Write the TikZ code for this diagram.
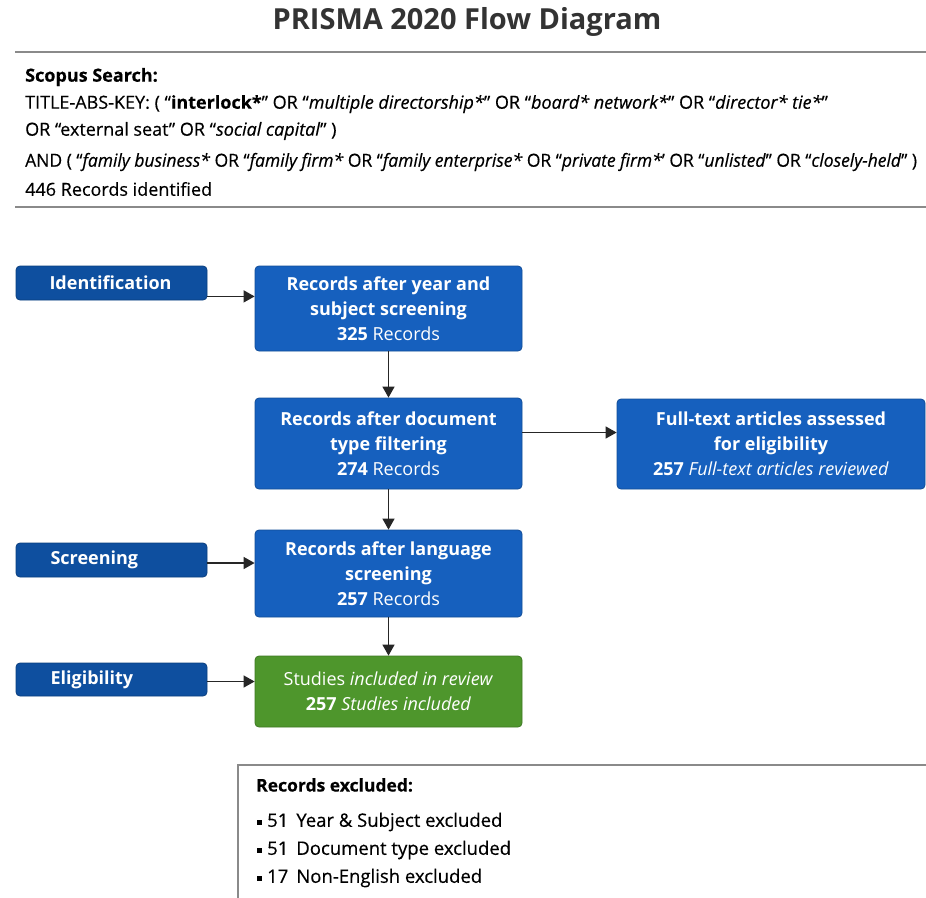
\documentclass[tikz,border=0pt]{standalone}
\usepackage{fontspec}
\setmainfont{Open Sans}
\newfontfamily\condfont{Open Sans}[FakeBold=0.4]
\newfontfamily\narrowfont{Open Sans}[FakeBold=0.4,FakeStretch=0.97]
\newfontfamily\boxfont{Open Sans}
\usetikzlibrary{arrows.meta,calc}
\definecolor{labblue}{HTML}{0E4F9F}
\definecolor{boxblue}{HTML}{1660BE}
\definecolor{boxgreen}{HTML}{4E962C}
\definecolor{titlegray}{HTML}{333333}
\definecolor{rulegray}{HTML}{8A8A8A}
\tikzset{
  labelbox/.style={draw=labblue!80!black, line width=0.8pt, fill=labblue, rounded corners=4pt,
    minimum width=191pt, minimum height=34pt},
  labeltext/.style={anchor=west, text=white, font=\boxfont\bfseries\fontsize{18}{20}\selectfont},
  flowbox/.style={draw=boxblue!80!black, line width=0.8pt, fill=boxblue, rounded corners=4pt,
    minimum width=267pt, text=white, align=center,
    font=\boxfont\fontsize{18}{25}\selectfont, inner sep=0pt},
  greenbox/.style={flowbox, draw=boxgreen!80!black, fill=boxgreen},
  arr/.style={draw=black!85, line width=1.4pt, -{Triangle[length=11pt,width=12pt]}},
  searchtext/.style={anchor=west, inner sep=0pt, font=\condfont\fontsize{18}{20}\selectfont, text=black},
  excltext/.style={anchor=west, inner sep=0pt, font=\condfont\fontsize{18.5}{20}\selectfont, text=black},
}
\begin{document}
\begin{tikzpicture}[x=1pt,y=-1pt]
\useasboundingbox[fill=white] (0,0) rectangle (926,897);

% title
\node[font=\bfseries\fontsize{29}{32}\selectfont, text=titlegray] (title) at (467,22) {PRISMA 2020 Flow Diagram};
\draw[rulegray, line width=2pt] (15,52) -- (926,52);

% search block
\node[searchtext] (s1) at (25,77) {\textbf{Scopus Search:}};
\node[searchtext] (s2) at (25,104) {TITLE-ABS-KEY: ( “\textbf{interlock*}” OR “\textit{multiple directorship*}” OR “\textit{board* network*}” OR “\textit{director* tie*}”};
\node[searchtext] (s3) at (25,131) {OR “external seat” OR “\textit{social capital}” )};
\node[searchtext, font=\narrowfont\fontsize{18}{20}\selectfont] (s4) at (25,162) {AND ( “\textit{family business*} OR “\textit{family firm*} OR “\textit{family enterprise*} OR “\textit{private firm*}’ OR “\textit{unlisted}” OR “\textit{closely-held}” )};
\node[searchtext] (s5) at (25,189) {446 Records identified};
\draw[rulegray, line width=2pt] (15,207) -- (926,207);

% stage labels
\node[labelbox] (ident) at (111.5,283) {};
\node[labeltext] at (46,283) {Identification};
\node[labelbox] (scr) at (111.5,560) {};
\node[labeltext] at (47,560) {Screening};
\node[labelbox, minimum height=33pt] (elig) at (111.5,679.5) {};
\node[labeltext] at (47,679.5) {Eligibility};

% flow boxes
\node[flowbox, minimum height=85pt] (b1) at (388.5,308.5)
  {\textbf{Records after year and}\\\textbf{subject screening}\\\textbf{325} Records};
\node[flowbox, minimum height=91pt] (b2) at (388.5,443.5)
  {\textbf{Records after document}\\\textbf{type filtering}\\\textbf{274} Records};
\node[flowbox, minimum height=90pt, minimum width=308pt] (full) at (771,444)
  {\textbf{Full-text articles assessed}\\\textbf{for eligibility}\\\textbf{257} \textit{Full-text articles reviewed}};
\node[flowbox, minimum height=87pt] (b3) at (388.5,573.5)
  {\textbf{Records after language}\\\textbf{screening}\\\textbf{257} Records};
\node[greenbox, minimum height=71pt] (green) at (388.5,691.5)
  {Studies \textit{included in review}\\\textbf{257} \textit{Studies included}};

% connectors
\draw[arr] ([yshift=4pt]ident.south east) -- ([yshift=4pt]ident.south east -| b1.west);
\draw[arr] (b1.south) -- (b2.north);
\draw[arr] ([yshift=11pt]b2.east) -- ([yshift=11pt]b2.east -| full.west);
\draw[arr] (b2.south) -- (b3.north);
\draw[arr] ([yshift=-3pt]scr.east) -- ([yshift=-3pt]scr.east -| b3.west);
\draw[arr] (b3.south) -- (green.north);
\draw[arr] ([yshift=-2pt]elig.east) -- ([yshift=-2pt]elig.east -| green.west);

% excluded box
\draw[rulegray, line width=1.5pt] (238,905) -- (238,765) -- (935,765);
\node[excltext, font=\condfont\bfseries\fontsize{17.5}{20}\selectfont] (ex0) at (256,785) {Records excluded:};
\node[excltext] (ex1) at (257,822) {\rule[2pt]{5pt}{5pt}\hspace{5pt}51\hspace{8pt}Year \& Subject excluded};
\node[excltext] (ex2) at (257,850) {\rule[2pt]{5pt}{5pt}\hspace{5pt}51\hspace{8pt}Document type excluded};
\node[excltext] (ex3) at (257,878) {\rule[2pt]{5pt}{5pt}\hspace{5pt}17\hspace{8pt}Non-English excluded};
\end{tikzpicture}
\end{document}
